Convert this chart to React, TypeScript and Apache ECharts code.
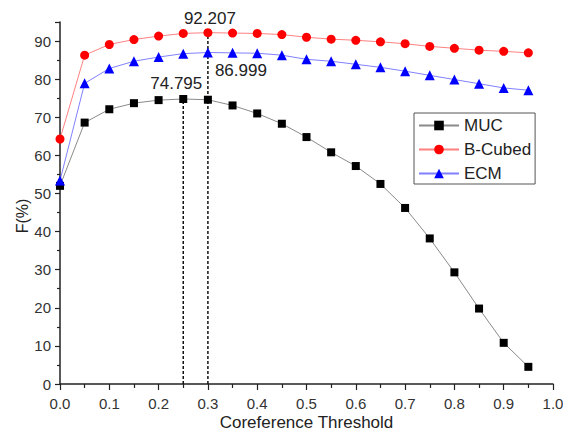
import React, { useEffect, useRef } from "react";
import * as echarts from "echarts";

const thresholds = [0, 0.05, 0.1, 0.15, 0.2, 0.25, 0.3, 0.35, 0.4, 0.45, 0.5, 0.55, 0.6, 0.65, 0.7, 0.75, 0.8, 0.85, 0.9, 0.95];
const mucValues = [52.0, 68.6, 72.1, 73.7, 74.5, 74.795, 74.6, 73.1, 71.0, 68.3, 64.8, 60.8, 57.2, 52.5, 46.2, 38.2, 29.3, 19.8, 10.8, 4.5];
const bCubedValues = [64.3, 86.3, 89.1, 90.4, 91.3, 92.0, 92.207, 92.1, 92.0, 91.7, 91.0, 90.5, 90.2, 89.8, 89.3, 88.6, 88.1, 87.6, 87.3, 86.9];
const ecmValues = [53.4, 78.9, 82.8, 84.7, 85.8, 86.7, 86.999, 86.9, 86.8, 86.3, 85.2, 84.7, 83.9, 83.1, 82.1, 81.0, 79.9, 78.8, 77.7, 77.1];
const seriesNames = ["MUC", "B-Cubed", "ECM"];
const xTitle = "Coreference Threshold";
const yTitle = "F(%)";

const FONT = "Liberation Sans, Arial, sans-serif";

export default function App() {
  const ref = useRef<HTMLDivElement>(null);
  useEffect(() => {
    if (!ref.current) return;
    const chart = echarts.init(ref.current, null, { renderer: "svg" });
    const idxMuc = mucValues.indexOf(74.795);
    const idxB = bCubedValues.indexOf(92.207);
    const idxE = ecmValues.indexOf(86.999);
    const labelStyle = { fontFamily: FONT, fontSize: 17, color: "#222" };
    const withLabel = (vals: number[], idx: number, offset: number[]) =>
      thresholds.map((t, i) =>
        i === idx
          ? {
              value: [t, vals[i]],
              label: {
                show: true,
                position: "inside",
                offset,
                formatter: String(vals[i]),
                ...labelStyle,
              },
            }
          : [t, vals[i]]
      );
    chart.setOption({
      animation: false,
      textStyle: { fontFamily: FONT },
      grid: { left: 60, right: 10, top: 22, bottom: 48, outerBoundsMode: "none", containLabel: false },
      legend: {
        left: 414,
        top: 113,
        orient: "vertical",
        data: seriesNames,
        itemWidth: 40,
        itemHeight: 12,
        itemGap: 7,
        padding: [4, 4, 2, 4],
        borderColor: "#555",
        borderWidth: 1,
        backgroundColor: "#fff",
        textStyle: { fontFamily: FONT, fontSize: 17, color: "#222", lineHeight: 14 },
      },
      xAxis: {
        type: "value",
        min: 0,
        max: 1,
        interval: 0.1,
        name: xTitle,
        nameLocation: "middle",
        nameGap: 30,
        nameMoveOverlap: false,
        nameTextStyle: { fontFamily: FONT, fontSize: 17, color: "#222", lineHeight: 17 },
        axisLine: { show: true, lineStyle: { color: "#222", width: 1.5 } },
        axisTick: { show: true, length: 6, lineStyle: { color: "#222", width: 1.2 } },
        minorTick: { show: true, splitNumber: 2, length: 4, lineStyle: { color: "#222", width: 1.2 } },
        splitLine: { show: false },
        axisLabel: {
          formatter: (v: number) => v.toFixed(1),
          fontFamily: FONT,
          fontSize: 15,
          color: "#333",
          margin: 12,
        },
      },
      yAxis: {
        type: "value",
        min: 0,
        max: 95,
        interval: 10,
        axisLine: { show: true, lineStyle: { color: "#222", width: 1.5 } },
        axisTick: { show: true, length: 5, lineStyle: { color: "#222", width: 1.2 } },
        minorTick: { show: true, splitNumber: 2, length: 3, lineStyle: { color: "#222", width: 1.2 } },
        splitLine: { show: false },
        axisLabel: {
          formatter: (v: number) => (v % 10 === 0 ? String(v) : ""),
          fontFamily: FONT,
          fontSize: 15,
          color: "#333",
          margin: 9,
        },
      },
      graphic: [
        {
          type: "text",
          x: 22,
          y: 216,
          rotation: Math.PI / 2,
          style: {
            text: yTitle,
            fontFamily: FONT,
            fontSize: 16,
            fill: "#222",
            align: "center",
            verticalAlign: "middle",
          },
        },
      ],
      series: [
        {
          name: "guide-muc",
          type: "line",
          data: [
            [thresholds[idxMuc], 0],
            [thresholds[idxMuc], mucValues[idxMuc]],
          ],
          symbol: "none",
          lineStyle: { color: "#111", width: 1.5, type: [3, 2] },
          z: 1,
          silent: true,
        },
        {
          name: "guide-b",
          type: "line",
          data: [
            [thresholds[idxB], 0],
            [thresholds[idxB], bCubedValues[idxB]],
          ],
          symbol: "none",
          lineStyle: { color: "#111", width: 1.5, type: [3, 2] },
          z: 1,
          silent: true,
        },
        {
          name: "MUC",
          type: "line",
          data: withLabel(mucValues, idxMuc, [-7, -15]),
          symbol: "rect",
          symbolSize: 8,
          showAllSymbol: true,
          itemStyle: { color: "#000" },
          lineStyle: { color: "#8a8a8a", width: 1 },
          z: 3,
        },
        {
          name: "B-Cubed",
          type: "line",
          data: withLabel(bCubedValues, idxB, [2, -14]),
          symbol: "circle",
          symbolSize: 9,
          showAllSymbol: true,
          itemStyle: { color: "#ff0000" },
          lineStyle: { color: "#ff8080", width: 1 },
          z: 3,
        },
        {
          name: "ECM",
          type: "line",
          data: withLabel(ecmValues, idxE, [33, 18.5]),
          symbol: "triangle",
          symbolSize: 10,
          showAllSymbol: true,
          itemStyle: { color: "#0000ff" },
          lineStyle: { color: "#8080ff", width: 1 },
          z: 3,
        },
      ],
    });
    return () => chart.dispose();
  }, []);
  return (
    <div
      ref={ref}
      style={{ position: "absolute", left: 0, top: 0, width: 563, height: 432 }}
    />
  );
}
